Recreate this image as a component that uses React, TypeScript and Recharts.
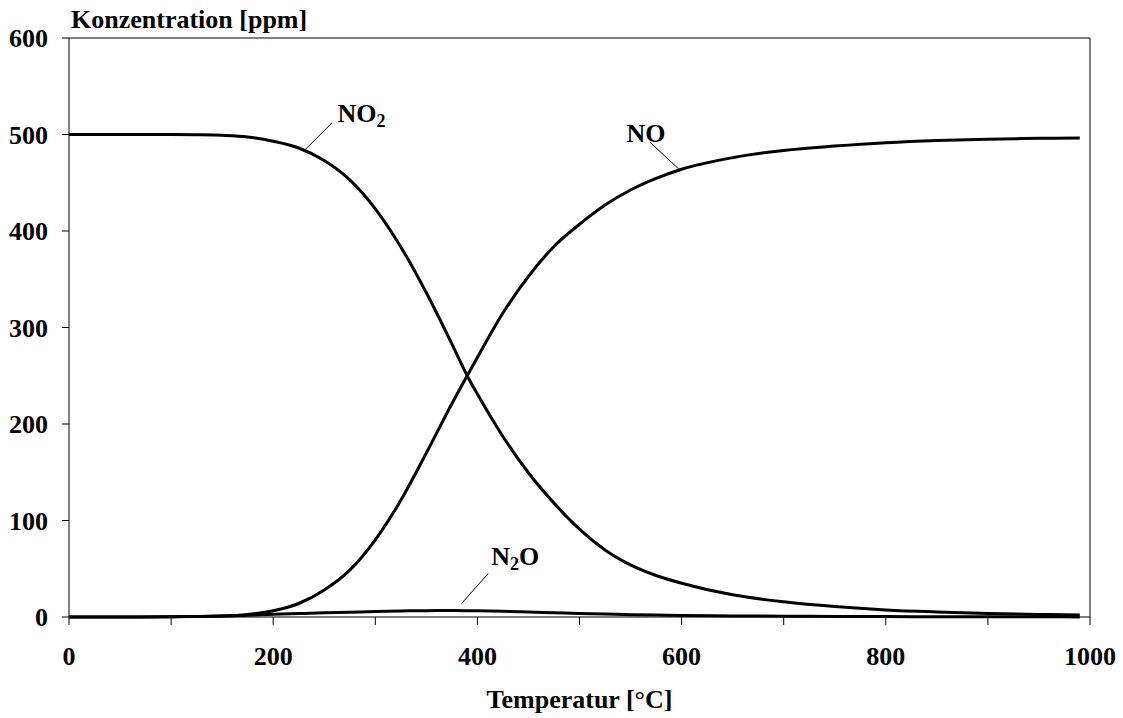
import { Label, Line, LineChart, ReferenceDot, ReferenceLine, XAxis, YAxis } from "recharts";

// Temperatur [°C] und Konzentrationen [ppm]
const temps = [0, 50, 100, 125, 150, 175, 200, 225, 250, 275, 300, 325, 350, 375, 390, 400, 425, 450, 475, 500, 525, 550, 575, 600, 650, 700, 750, 800, 850, 900, 950, 990];
const no2 = [500, 500, 500, 499.8, 499.2, 497.5, 493, 486, 473, 453, 423, 383.5, 336, 283, 250, 231, 187, 149.5, 118, 91, 69.5, 54, 43, 35, 23, 15.8, 10.8, 7.3, 5.2, 3.7, 2.7, 2.1];
const no = [0, 0, 0.2, 0.5, 1, 2.7, 6.5, 14, 28, 48.6, 80, 121, 170, 221, 250, 269, 315, 353, 384, 407, 427, 442.5, 454.5, 464, 476, 483.5, 488, 491.5, 493.8, 495.2, 496, 496.5];
const n2o = [0, 0, 0.3, 0.6, 1, 1.8, 2.8, 3.6, 4.3, 5, 5.7, 6.2, 6.6, 6.7, 6.6, 6.4, 5.9, 5.2, 4.4, 3.6, 3, 2.4, 2, 1.6, 1.1, 0.8, 0.6, 0.4, 0.3, 0.2, 0.2, 0.1];

const xTicks = [0, 100, 200, 300, 400, 500, 600, 700, 800, 900, 1000];
const yTicks = [0, 100, 200, 300, 400, 500, 600];

// Beschriftungen der Kurven: Text (mit Index) + Hinweislinie, in Datenkoordinaten
const annotations = [
  { name: "NO2", main: "NO", sub: "2", rest: "", x: 263, y: 513, from: { x: 231, y: 484 }, to: { x: 257.5, y: 512 } },
  { name: "NO", main: "NO", sub: "", rest: "", x: 546, y: 492, from: { x: 569, y: 492 }, to: { x: 597.5, y: 464 } },
  { name: "N2O", main: "N", sub: "2", rest: "O", x: 413.5, y: 54, from: { x: 410.5, y: 45 }, to: { x: 384.5, y: 14 } },
];

const data = temps.map((t, i) => ({ t, no2: no2[i], no: no[i], n2o: n2o[i] }));

const FONT = "'Liberation Serif', 'Times New Roman', serif";
const tickStyle = { fill: "#000", fontSize: 26, fontWeight: "bold", fontFamily: FONT };

function AnnotationText({ viewBox, a }: any) {
  const x = viewBox.x + viewBox.width / 2;
  const y = viewBox.y + viewBox.height / 2;
  return (
    <text x={x} y={y} fill="#000" fontSize={26} fontWeight="bold" fontFamily={FONT}>
      {a.main}
      {a.sub && (
        <tspan fontSize={18} dy={5}>
          {a.sub}
        </tspan>
      )}
      {a.rest && (
        <tspan fontSize={26} dy={-5}>
          {a.rest}
        </tspan>
      )}
    </text>
  );
}

export default function App() {
  return (
    <div style={{ position: "absolute", left: 0, top: 0 }}>
      <LineChart width={1123} height={718} data={data} margin={{ top: 38, right: 33, left: 0, bottom: 0 }}>
        <XAxis
          dataKey="t"
          type="number"
          domain={[0, 1000]}
          ticks={xTicks}
          tickFormatter={(v) => (v % 200 === 0 ? String(v) : "")}
          tick={tickStyle}
          tickSize={8}
          tickMargin={22}
          stroke="#000"
          height={101}
        >
          <Label
            content={({ viewBox }: any) => (
              <text
                x={viewBox.x + viewBox.width / 2}
                y={viewBox.y + 91}
                textAnchor="middle"
                fill="#000"
                fontSize={26}
                fontWeight="bold"
                fontFamily={FONT}
              >
                Temperatur [°C]
              </text>
            )}
          />
        </XAxis>
        <YAxis
          type="number"
          domain={[0, 600]}
          ticks={yTicks}
          tick={tickStyle}
          tickSize={7}
          tickMargin={14}
          stroke="#000"
          width={69}
        >
          <Label
            content={({ viewBox }: any) => (
              <text x={viewBox.x + viewBox.width + 2} y={viewBox.y - 10} fill="#000" fontSize={26} fontWeight="bold" fontFamily={FONT}>
                Konzentration [ppm]
              </text>
            )}
          />
        </YAxis>
        <ReferenceLine y={600} stroke="#000" />
        <ReferenceLine x={1000} stroke="#000" />
        <Line type="monotone" dataKey="no2" stroke="#000" strokeWidth={3} dot={false} isAnimationActive={false} />
        <Line type="monotone" dataKey="no" stroke="#000" strokeWidth={3} dot={false} isAnimationActive={false} />
        <Line type="monotone" dataKey="n2o" stroke="#000" strokeWidth={3} dot={false} isAnimationActive={false} />
        {annotations.map((a) => (
          <ReferenceLine key={a.name + "-line"} segment={[a.from, a.to]} stroke="#000" strokeWidth={1} />
        ))}
        {annotations.map((a) => (
          <ReferenceDot
            key={a.name + "-text"}
            x={a.x}
            y={a.y}
            r={1}
            fill="none"
            stroke="none"
            label={(props: any) => <AnnotationText {...props} a={a} />}
          />
        ))}
      </LineChart>
    </div>
  );
}
